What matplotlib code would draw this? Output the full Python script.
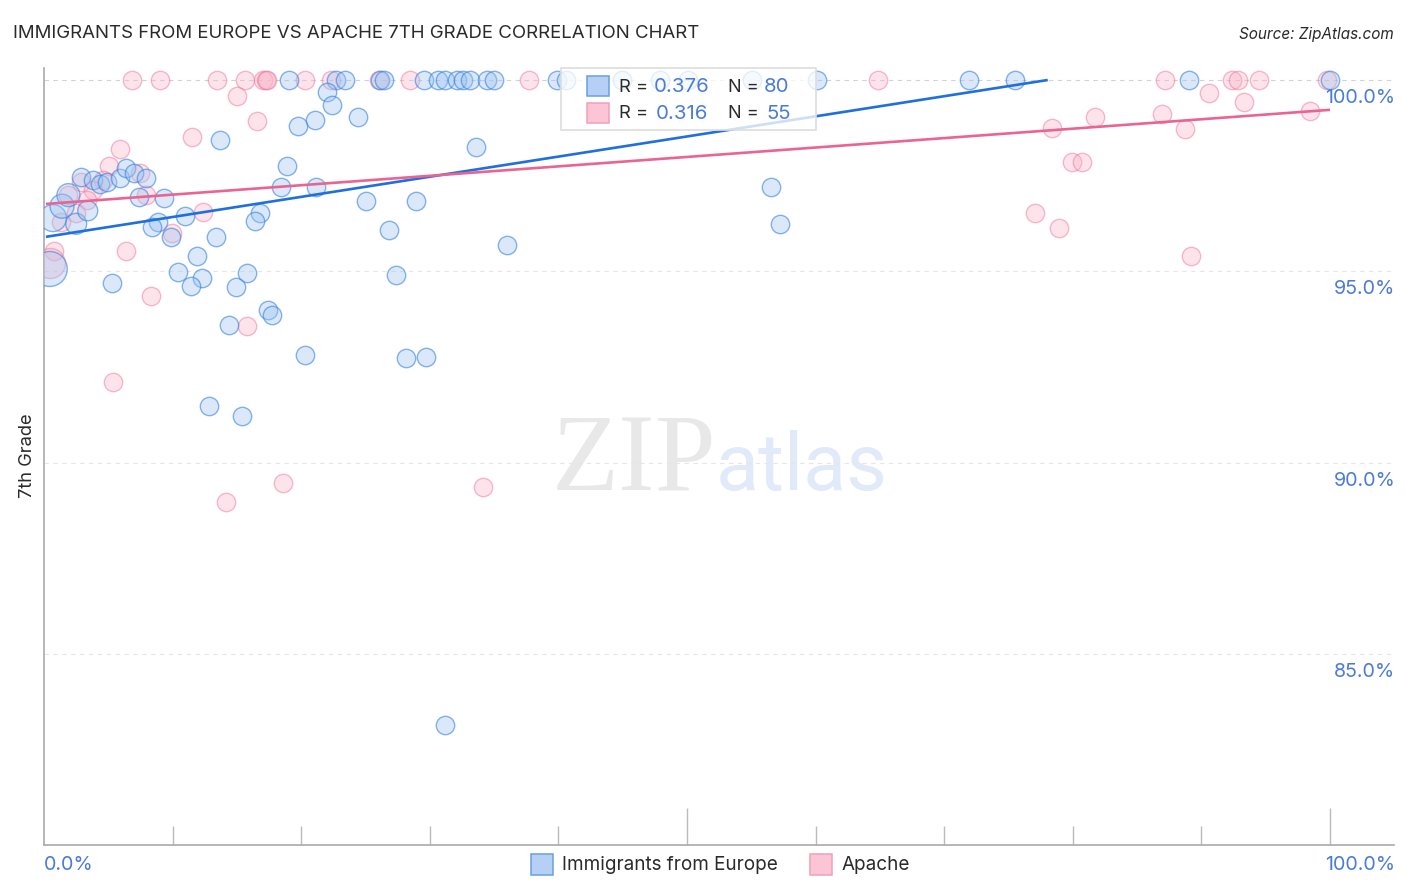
import matplotlib
matplotlib.use("Agg")
import matplotlib.pyplot as plt
from matplotlib.patches import Rectangle

plt.rcParams['font.family'] = ['Inter', 'DejaVu Sans']

W, H = 1406, 892

# immigrants from europe
blue_x = [19.05, 22.7, 23.4, 26.1, 26.4, 29.55, 30.65, 31.2, 32.1, 32.6, 33.1, 34.45, 35.0, 39.9, 40.6,
          44.95, 47.9, 50.1, 55.05, 60.1, 71.9, 75.5, 89.05, 100.0,
          22.0, 22.4, 24.4, 19.75, 21.05, 13.7, 33.6, 18.9, 2.9, 3.8, 4.35, 4.9, 5.9, 6.4, 7.0, 7.9,
          7.4, 9.35, 18.45, 21.15, 56.55, 25.05, 28.9, 16.8, 10.95, 16.4, 8.85, 8.4, 9.9, 13.4,
          26.85, 57.25, 36.0, 11.9, 10.4, 15.8, 12.3, 11.45, 14.95, 5.3, 27.35, 17.4, 17.75, 14.4,
          20.3, 28.15, 29.7, 12.85, 15.4, 31.2]
blue_y = [100.0] * 24 + [
          99.69, 99.35, 99.03, 98.8, 98.95, 98.43, 98.25, 97.75, 97.46, 97.39, 97.28, 97.33, 97.44, 97.7, 97.57, 97.44,
          96.94, 96.92, 97.2, 97.2, 97.2, 96.84, 96.84, 96.52, 96.44, 96.31, 96.29, 96.16, 95.9, 95.9,
          96.08, 96.24, 95.69, 95.4, 94.98, 94.95, 94.82, 94.61, 94.59, 94.69, 94.9, 93.99, 93.86, 93.59,
          92.81, 92.73, 92.76, 91.48, 91.22, 83.14]
# the few bigger bubbles near the left edge
blue_big_x = [0.45, 0.7, 1.4, 1.9, 2.5, 3.4]
blue_big_y = [95.06, 96.39, 96.7, 96.99, 96.24, 96.58]
blue_big_w = [35, 27, 24, 23, 21, 20]

# apache
pink_x = [6.85, 9.0, 13.45, 15.65, 17.05, 17.25, 17.35, 20.3, 22.3, 26.05, 28.45, 37.7, 64.85, 87.15, 92.4, 92.85, 94.5, 99.75,
          15.0, 16.55, 11.5, 5.9, 5.05, 2.9, 4.6, 7.45, 3.8, 1.85, 3.35, 7.95, 12.35, 9.95, 2.5, 1.3, 0.8, 6.4,
          8.3, 15.8, 5.35, 14.15, 18.6, 34.15, 90.6, 93.3, 98.45, 86.95, 88.7, 81.75, 78.4, 79.95, 80.7, 77.05, 78.95, 89.2]
pink_y = [100.0] * 18 + [
          99.58, 98.93, 98.51, 98.2, 97.75, 97.33, 97.39, 97.57, 97.12, 96.99, 96.86, 96.99, 96.55, 96.0, 96.52, 96.29, 95.53, 95.53,
          94.35, 93.57, 92.1, 88.97, 89.46, 89.36, 99.66, 99.42, 99.19, 99.11, 98.72, 99.03, 98.75, 97.86, 97.86, 96.52, 96.13, 95.4]
pink_big_x = [0.45]
pink_big_y = [95.22]
pink_big_w = [30]

# trend lines
blue_line_x = [0.15, 78.05]
blue_line_y = [95.9, 100.0]
pink_line_x = [0.15, 100.0]
pink_line_y = [96.76, 99.22]

y_ticks = [100, 95, 90, 85]
y_labels = ["100.0%", "95.0%", "90.0%", "85.0%"]
legend_rows = [("0.376", "80"), ("0.316", "55")]
series_names = ["Immigrants from Europe", "Apache"]

BLUE_TXT = "#4a7bd8"
DARK = "#2a2a2a"


def fx(px):
    return px / W


def fy(py):
    return 1 - py / H


def box(x0, y0, x1, y1, **kw):
    fig.add_artist(Rectangle((fx(x0), fy(y1)), (x1 - x0) / W, (y1 - y0) / H, transform=fig.transFigure, **kw))


def ftext(px, py, s, **kw):
    fig.text(fx(px), fy(py), s, va='center', **kw)


fig = plt.figure(figsize=(W / 100, H / 100), dpi=100)
ax = fig.add_axes([fx(44), fy(845), (1394 - 44) / W, (845 - 68) / H])
ax.set_xlim(0, 1350 / 12.86)
ax.set_ylim(100 - 765 / 38.25, 100 + 12 / 38.25)

# watermark
ax.text(39.5, 89.28, "ZIP", family="Liberation Serif", fontsize=79, color="#e8e8e8", zorder=0, va='baseline')
ax.text(52.2, 89.28, "atlas", family="Roboto", fontsize=57, color="#e1eaf8", zorder=0, va='baseline')

for v in y_ticks:
    ax.axhline(v, color="#d2d2d2" if v == 100 else "#e6e6e6", lw=0.8, dashes=(4, 4), zorder=1)

blue_face = (0.62, 0.77, 0.95, 0.38)
blue_edge = (0.20, 0.50, 0.87, 0.58)
pink_face = (0.98, 0.70, 0.78, 0.36)
pink_edge = (0.93, 0.45, 0.62, 0.48)
r = 9.2 * 0.72 * 2
ax.scatter(pink_x, pink_y, s=r ** 2, fc=pink_face, ec=pink_edge, lw=1.0, zorder=3)
ax.scatter(pink_big_x, pink_big_y, s=[(w * 0.72) ** 2 for w in pink_big_w], fc=pink_face, ec=pink_edge, lw=1.0, zorder=3)
ax.scatter(blue_x, blue_y, s=r ** 2, fc=blue_face, ec=blue_edge, lw=1.0, zorder=4)
ax.scatter(blue_big_x, blue_big_y, s=[(w * 0.72) ** 2 for w in blue_big_w], fc=blue_face, ec=blue_edge, lw=1.0, zorder=4)

ax.plot(blue_line_x, blue_line_y, color="#1f6fde", lw=1.9, zorder=5, solid_capstyle='butt', clip_on=False)
ax.plot(pink_line_x, pink_line_y, color="#ea6492", lw=1.9, zorder=6, solid_capstyle='butt')

for s in ['top', 'right']:
    ax.spines[s].set_visible(False)
ax.spines['left'].set_color("#aaaaaa")
ax.spines['bottom'].set_color("#aaaaaa")
ax.spines['left'].set_linewidth(1.2)
ax.spines['bottom'].set_linewidth(1.2)

ax.set_xticks([50, 100])
ax.set_xticks([10, 20, 30, 40, 60, 70, 80, 90], minor=True)
ax.tick_params(axis='x', which='major', direction='in', length=27, color="#bbbbbb", width=1, labelbottom=False)
ax.tick_params(axis='x', which='minor', direction='in', length=14, color="#bbbbbb", width=1, labelbottom=False)
ax.set_yticks([])

for v, lab in zip(y_ticks, y_labels):
    ax.annotate(lab, xy=(1, v), xycoords=ax.get_yaxis_transform(), xytext=(1, -13.0), textcoords='offset points',
                ha='right', va='center', color=BLUE_TXT, fontsize=14.2, annotation_clip=False)

ftext(13, 33, "IMMIGRANTS FROM EUROPE VS APACHE 7TH GRADE CORRELATION CHART", fontsize=13.43, color=DARK)
ftext(1394, 34, "Source: ZipAtlas.com", fontsize=11, style='italic', color=DARK, ha='right')
ftext(27, 456, "7th Grade", fontsize=13.2, color=DARK, rotation=90, ha='center')
ftext(44, 865, "0.0%", fontsize=14.2, color=BLUE_TXT)
ftext(1395, 865, "100.0%", fontsize=14.2, color=BLUE_TXT, ha='right')

# top legend box
box(561, 68, 816, 130, fc=(1, 1, 1, 0.78), ec="#dddddd", lw=1.2, zorder=10)
swatch_blue = dict(fc="#b5cff5", ec="#6a9fe0", lw=1.1, zorder=11)
swatch_pink = dict(fc="#fcc5d5", ec="#f0a0b8", lw=1.1, zorder=11)
box(587, 76, 609, 96, **swatch_blue)
box(587, 103, 609, 123, **swatch_pink)
for py, (rv, nv), rx, nx in zip([87, 114], legend_rows, [654, 656], [764, 766]):
    ftext(619, py, "R =", fontsize=13.2, color=DARK, zorder=12)
    ftext(rx, py, rv, fontsize=14.7, color=BLUE_TXT, zorder=12)
    ftext(728, py, "N =", fontsize=13, color=DARK, zorder=12)
    ftext(nx, py, nv, fontsize=14.7, color=BLUE_TXT, zorder=12)

# bottom legend
box(531, 854, 553, 875, **swatch_blue)
box(810, 854, 832, 875, **swatch_pink)
ftext(562, 865, series_names[0], fontsize=13.6, color=DARK)
ftext(842, 865, series_names[1], fontsize=13.6, color=DARK)

fig.savefig("out.png", dpi=100)
